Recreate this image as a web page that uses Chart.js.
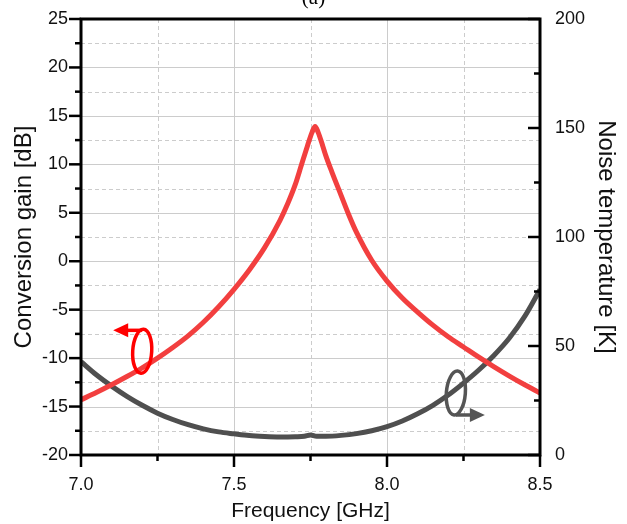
<!DOCTYPE html>
<html>
<head>
<meta charset="utf-8">
<script src="https://cdn.jsdelivr.net/npm/chart.js@4.4.0/dist/chart.umd.min.js"></script>
<style>
  body { margin: 0; background: #fff; }
  canvas { display: block; }
</style>
</head>
<body>
<canvas id="chart" width="627" height="524"></canvas>
<script>
// conversion gain (left axis, dB)
let gainFreq = [7.00, 7.05, 7.10, 7.15, 7.20, 7.25, 7.30, 7.35, 7.40, 7.45,
                7.50, 7.55, 7.60, 7.65, 7.675, 7.70, 7.72, 7.74, 7.755, 7.765,
                7.775, 7.79, 7.80, 7.82, 7.85, 7.875, 7.90, 7.95, 8.00, 8.05,
                8.10, 8.15, 8.20, 8.25, 8.30, 8.35, 8.40, 8.45, 8.50];
let gainDb = [-14.3, -13.55, -12.75, -11.9, -11.0, -10.0, -8.9, -7.7, -6.3, -4.7,
              -2.9, -0.9, 1.4, 4.2, 5.9, 7.9, 9.9, 11.9, 13.3, 13.9,
              13.3, 11.9, 10.9, 9.2, 6.8, 4.8, 3.0, 0.1, -2.05, -3.8,
              -5.25, -6.6, -7.8, -8.85, -9.9, -10.9, -11.85, -12.75, -13.6];

// noise temperature (right axis, K)
let noiseFreq = [7.00, 7.05, 7.10, 7.15, 7.20, 7.25, 7.30, 7.35, 7.40, 7.45,
                 7.50, 7.55, 7.60, 7.65, 7.70, 7.73, 7.75, 7.77, 7.80, 7.85,
                 7.90, 7.95, 8.00, 8.05, 8.10, 8.15, 8.20, 8.25, 8.30, 8.35,
                 8.40, 8.45, 8.50];
let noiseK = [42.8, 36.8, 31.6, 26.9, 22.8, 19.2, 16.3, 13.9, 12.0, 10.6,
              9.7, 8.9, 8.5, 8.3, 8.4, 8.6, 9.2, 8.6, 8.6, 9.0,
              9.8, 11.1, 13.0, 15.6, 18.9, 22.8, 27.5, 33.0, 39.0, 45.8,
              53.7, 63.6, 75.9];

// axis ranges
let xRange = [7.0, 8.5];
let gainRange = [-20, 25];
let noiseRange = [0, 200];

const FONT = '"Liberation Sans", Arial, sans-serif';

function toPoints(xs, ys) {
    return xs.map((v, i) => ({ x: v, y: ys[i] }));
}

// midpoints between major ticks -> minor ticks
function minors(scale) {
    let vals = scale.ticks.map(t => t.value);
    let out = [];
    for (let i = 0; i < vals.length - 1; i++) out.push((vals[i] + vals[i + 1]) / 2);
    return out;
}

// fixed axis sizes, no extra label overhang padding
function fixVertical(width) {
    return s => { s.width = width; s.paddingTop = 0; s.paddingBottom = 0; };
}

const frame = {
    id: 'frame',
    beforeDatasetsDraw(chart) {
        const { ctx, chartArea: a, scales } = chart;
        const x = scales.x, y = scales.y;
        ctx.save();
        ctx.strokeStyle = '#cccccc';
        ctx.lineWidth = 1;
        // major grid
        ctx.setLineDash([]);
        x.ticks.forEach(t => {
            let px = Math.round(x.getPixelForValue(t.value)) + 0.5;
            ctx.beginPath(); ctx.moveTo(px, a.top); ctx.lineTo(px, a.bottom); ctx.stroke();
        });
        y.ticks.forEach(t => {
            let py = Math.round(y.getPixelForValue(t.value)) + 0.5;
            ctx.beginPath(); ctx.moveTo(a.left, py); ctx.lineTo(a.right, py); ctx.stroke();
        });
        // minor grid
        ctx.setLineDash([4, 3]);
        minors(x).forEach(v => {
            let px = Math.round(x.getPixelForValue(v)) + 0.5;
            ctx.beginPath(); ctx.moveTo(px, a.top); ctx.lineTo(px, a.bottom); ctx.stroke();
        });
        minors(y).forEach(v => {
            let py = Math.round(y.getPixelForValue(v)) + 0.5;
            ctx.beginPath(); ctx.moveTo(a.left, py); ctx.lineTo(a.right, py); ctx.stroke();
        });
        ctx.restore();
    },
    afterDatasetsDraw(chart) {
        const { ctx, chartArea: a, scales } = chart;
        const x = scales.x, y = scales.y, y2 = scales.y2;
        ctx.save();
        ctx.strokeStyle = '#000';
        ctx.lineWidth = 3;
        ctx.setLineDash([]);
        ctx.strokeRect(a.left, a.top, a.right - a.left, a.bottom - a.top);

        // tick marks
        function tick(x1, y1, x2, y2) {
            ctx.beginPath(); ctx.moveTo(x1, y1); ctx.lineTo(x2, y2); ctx.stroke();
        }
        ctx.lineWidth = 2.5;
        x.ticks.forEach(t => { let p = x.getPixelForValue(t.value); tick(p, a.bottom, p, a.bottom + 12); });
        minors(x).forEach(v => { let p = x.getPixelForValue(v); tick(p, a.bottom, p, a.bottom + 6); });
        y.ticks.forEach(t => { let p = y.getPixelForValue(t.value); tick(a.left - 12, p, a.left, p); });
        minors(y).forEach(v => { let p = y.getPixelForValue(v); tick(a.left - 6, p, a.left, p); });
        y2.ticks.forEach(t => { let p = y2.getPixelForValue(t.value); tick(a.right - 12, p, a.right, p); });
        minors(y2).forEach(v => { let p = y2.getPixelForValue(v); tick(a.right - 6, p, a.right, p); });

        // curve markers (ellipse + arrow pointing at the axis)
        function marker(cx, cy, color, dir) {
            ctx.strokeStyle = color;
            ctx.fillStyle = color;
            ctx.lineWidth = 3.5;
            ctx.beginPath();
            ctx.ellipse(cx, cy, 9.5, 22, dir < 0 ? 0.06 : 0.08, 0, Math.PI * 2);
            ctx.stroke();
            let ay = dir < 0 ? cy - 21 : cy + 22;
            let tip = cx + dir * 29;
            ctx.beginPath();
            ctx.moveTo(cx, ay);
            ctx.lineTo(tip - dir * 10, ay);
            ctx.stroke();
            ctx.beginPath();
            ctx.moveTo(tip, ay);
            ctx.lineTo(tip - dir * 15, ay - 7);
            ctx.lineTo(tip - dir * 15, ay + 7);
            ctx.closePath();
            ctx.fill();
        }
        marker(x.getPixelForValue(7.20), y.getPixelForValue(-9.3), '#ff0000', -1);
        marker(x.getPixelForValue(8.225), y.getPixelForValue(-13.6), '#555555', 1);

        // panel label
        ctx.fillStyle = '#000';
        ctx.font = '21px "Liberation Serif", "Times New Roman", serif';
        ctx.textAlign = 'center';
        ctx.textBaseline = 'alphabetic';
        ctx.fillText('(a)', (a.left + a.right) / 2 + 3, 4);
        ctx.restore();
    }
};

let ctx = document.getElementById('chart');
let myChart = new Chart(ctx, {
    type: 'line',
    data: {
        datasets: [{
            label: 'Conversion gain',
            data: toPoints(gainFreq, gainDb),
            yAxisID: 'y',
            borderColor: '#f23f3f',
            borderWidth: 5,
            pointRadius: 0,
            cubicInterpolationMode: 'monotone',
            fill: false
        }, {
            label: 'Noise temperature',
            data: toPoints(noiseFreq, noiseK),
            yAxisID: 'y2',
            borderColor: '#4f4f4f',
            borderWidth: 5,
            pointRadius: 0,
            cubicInterpolationMode: 'monotone',
            fill: false
        }]
    },
    options: {
        responsive: false,
        animation: false,
        devicePixelRatio: 1,
        layout: { padding: { top: 19, left: 0, right: 0, bottom: 0 } },
        plugins: { legend: { display: false }, tooltip: { enabled: false } },
        scales: {
            x: {
                type: 'linear',
                min: xRange[0],
                max: xRange[1],
                grid: { display: false, drawTicks: false },
                border: { display: false },
                ticks: {
                    stepSize: 0.5,
                    padding: 19,
                    color: '#111',
                    font: { family: FONT, size: 18 },
                    maxRotation: 0,
                    autoSkip: false,
                    callback: v => v.toFixed(1)
                },
                title: {
                    display: true,
                    text: 'Frequency [GHz]',
                    color: '#111',
                    font: { family: FONT, size: 21 },
                    padding: { top: 0, bottom: 0.5 }
                },
                afterFit: s => { s.height = 69; s.paddingLeft = 0; s.paddingRight = 0; }
            },
            y: {
                position: 'left',
                min: gainRange[0],
                max: gainRange[1],
                grid: { display: false, drawTicks: false },
                border: { display: false },
                ticks: {
                    stepSize: 5,
                    padding: 13,
                    color: '#111',
                    font: { family: FONT, size: 18 },
                    autoSkip: false
                },
                title: {
                    display: true,
                    text: 'Conversion gain [dB]',
                    color: '#111',
                    font: { family: FONT, size: 24 },
                    padding: { top: 10, bottom: 0 }
                },
                afterFit: fixVertical(81)
            },
            y2: {
                position: 'right',
                min: noiseRange[0],
                max: noiseRange[1],
                grid: { display: false, drawTicks: false },
                border: { display: false },
                ticks: {
                    stepSize: 50,
                    padding: 15,
                    color: '#111',
                    font: { family: FONT, size: 18 },
                    autoSkip: false
                },
                title: {
                    display: true,
                    text: 'Noise temperature [K]',
                    color: '#111',
                    font: { family: FONT, size: 24 },
                    padding: { top: 7, bottom: 0 }
                },
                afterFit: fixVertical(87)
            }
        }
    },
    plugins: [frame]
});
</script>
</body>
</html>
